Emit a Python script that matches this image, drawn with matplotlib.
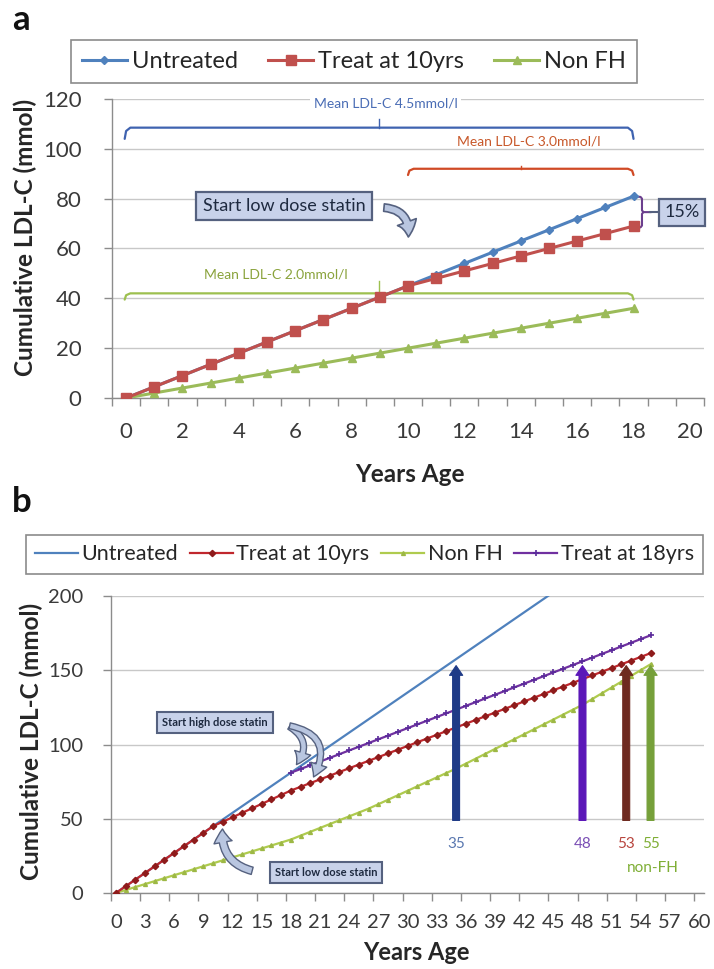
import matplotlib
matplotlib.use("Agg")
import matplotlib.pyplot as plt
from matplotlib.patches import FancyArrowPatch

plt.rcParams['font.family'] = ['Lato', 'DejaVu Sans']

# ---------------- data: panel a ----------------
ages_a = list(range(0, 19))
untreated_a = [0, 4.5, 9, 13.5, 18, 22.5, 27, 31.5, 36, 40.5, 45, 49.5, 54, 58.5, 63, 67.5, 72, 76.5, 81]
treat10_a = [0, 4.5, 9, 13.5, 18, 22.5, 27, 31.5, 36, 40.5, 45, 48, 51, 54, 57, 60, 63, 66, 69]
nonfh_a = [0, 2, 4, 6, 8, 10, 12, 14, 16, 18, 20, 22, 24, 26, 28, 30, 32, 34, 36]
xticks_a = [0, 2, 4, 6, 8, 10, 12, 14, 16, 18, 20]
yticks_a = [0, 20, 40, 60, 80, 100, 120]

# ---------------- data: panel b ----------------
ages_untreated_b = list(range(0, 46))
untreated_b = [0, 4.5, 9, 13.5, 18, 22.5, 27, 31.5, 36, 40.5, 45, 49.5, 54, 58.5, 63, 67.5,
               72, 76.5, 81, 85.5, 90, 94.5, 99, 103.5, 108, 112.5, 117, 121.5, 126, 130.5,
               135, 139.5, 144, 148.5, 153, 157.5, 162, 166.5, 171, 175.5, 180, 184.5, 189,
               193.5, 198, 202.5]
ages_b = list(range(0, 56))
treat10_b = [0, 4.5, 9, 13.5, 18, 22.5, 27, 31.5, 36, 40.5, 45, 48, 51, 54, 57, 60, 63, 66, 69,
             71.5, 74, 76.5, 79, 81.5, 84, 86.5, 89, 91.5, 94, 96.5, 99, 101.5, 104, 106.5,
             109, 111.5, 114, 116.5, 119, 121.5, 124, 126.5, 129, 131.5, 134, 136.5, 139,
             141.5, 144, 146.5, 149, 151.5, 154, 156.5, 159, 161.5]
nonfh_b = [0, 2, 4, 6, 8, 10, 12, 14, 16, 18, 20, 22, 24, 26, 28, 30, 32, 34, 36,
           38.6, 41.2, 43.8, 46.4, 49.0, 51.6, 54.2, 56.8,
           59.8, 62.8, 65.8, 68.8, 71.8, 74.8, 77.8, 80.8, 83.8,
           87.1, 90.4, 93.7, 97.0, 100.3, 103.6, 106.9, 110.2, 113.5, 116.8, 120.1, 123.4, 126.7,
           130.6, 134.5, 138.4, 142.3, 146.2, 150.1, 154.0]
ages_treat18_b = list(range(18, 56))
treat18_b = [81, 83.5, 86, 88.5, 91, 93.5, 96, 98.5, 101, 103.5, 106, 108.5, 111, 113.5, 116,
             118.5, 121, 123.5, 126, 128.5, 131, 133.5, 136, 138.5, 141, 143.5, 146, 148.5,
             151, 153.5, 156, 158.5, 161, 163.5, 166, 168.5, 171, 173.5]
xticks_b = list(range(0, 61, 3))
yticks_b = [0, 50, 100, 150, 200]

# threshold arrows (age reaching cumulative burden)
arrow_ages = [35, 48, 52.5, 55]
arrow_labels = ["35", "48", "53", "55"]
arrow_top = 155
arrow_bottom = 47
arrow_colors = ["#1F3B87", "#5B17B8", "#6E2A20", "#76A03A"]
arrow_label_colors = ["#5A78B0", "#7A4FB5", "#B8453E", "#7FAE35"]

C_BLUE = "#4F81BD"
C_RED = "#C0504D"
C_GREEN = "#9BBB59"
C_PURPLE = "#7030A0"
GRID = "#C8C8C8"
AXC = "#8C8C8C"
TXT = "#3A3A3A"
LAB = "#262626"

fig = plt.figure(figsize=(7.14, 9.69), dpi=100)
W, H = 714.0, 969.0


def fx(px):
    return px / W


def fy(py):
    return 1 - py / H


def axes_px(left, right, top, bottom):
    return fig.add_axes([left / W, 1 - bottom / H, (right - left) / W, (bottom - top) / H])


def style_axes(ax, yticks, xticks, minor, xlabsize, ylabsize, xpad, ypad):
    for s in ['top', 'right']:
        ax.spines[s].set_visible(False)
    for s in ['left', 'bottom']:
        ax.spines[s].set_color(AXC)
        ax.spines[s].set_linewidth(1.0)
    ax.set_yticks(yticks)
    ax.yaxis.grid(True, color=GRID, lw=1.0)
    ax.set_axisbelow(True)
    ax.set_xticks(xticks)
    ax.set_xticks(minor, minor=True)
    ax.tick_params(axis='x', which='major', length=0, labelsize=xlabsize, labelcolor=TXT, pad=xpad)
    ax.tick_params(axis='x', which='minor', length=6, color=AXC, width=1, direction='out')
    ax.tick_params(axis='y', length=6, color=AXC, width=1, labelsize=ylabsize, labelcolor=TXT, pad=ypad)


def brace_h(ax, x0, x1, y, drop, tick, color, lw=1.6):
    ax.plot([x0, x0 + 0.05, x0 + 0.2, x1 - 0.2, x1 - 0.05, x1],
            [y - drop, y - drop * 0.3, y, y, y - drop * 0.3, y - drop],
            color=color, lw=lw, solid_capstyle='round', clip_on=False)
    xm = (x0 + x1) / 2.0
    ax.plot([xm, xm], [y, y + tick], color=color, lw=1.0, clip_on=False)


# ======================= Panel a =======================
axa = axes_px(112, 704, 99, 398)
axa.set_xlim(-0.5, 20.5)
axa.set_ylim(0, 120)
style_axes(axa, yticks_a, xticks_a, [i - 0.5 for i in range(0, 22)], 16, 16, 17, 16)

la1, = axa.plot(ages_a, untreated_a, color=C_BLUE, lw=2.2, marker='D', ms=4.5, mfc=C_BLUE, mec=C_BLUE, zorder=3)
la2, = axa.plot(ages_a, treat10_a, color=C_RED, lw=2.2, marker='s', ms=7, mfc=C_RED, mec=C_RED, zorder=4)
la3, = axa.plot(ages_a, nonfh_a, color=C_GREEN, lw=2.2, marker='^', ms=6, mfc=C_GREEN, mec=C_GREEN, zorder=3)

fig.text(fx(25), fy(237), "Cumulative LDL-C (mmol)", fontsize=17.5, fontweight='bold', color=LAB,
         rotation=90, ha='center', va='center')
fig.text(fx(410), fy(474), "Years Age", fontsize=17.5, fontweight='bold', color=LAB,
         ha='center', va='center')

# mean LDL-C braces
brace_h(axa, -0.05, 18.0, 108.5, 4.5, 3.5, "#3F63B0")
axa.text(9.2, 118.3, "Mean LDL-C 4.5mmol/l", color="#4A6DB5", fontsize=10, ha='center', va='center',
         bbox=dict(boxstyle='square,pad=0.25', fc='white', ec='none'), zorder=5)
brace_h(axa, 10.0, 18.0, 92.0, 2.5, 1.2, "#D04A25")
axa.text(14.3, 103.0, "Mean LDL-C 3.0mmol/l", color="#C8582A", fontsize=10, ha='center', va='center', zorder=5)
brace_h(axa, -0.05, 18.0, 42.0, 2.5, 5.0, "#9DC04F")
axa.text(5.3, 49.6, "Mean LDL-C 2.0mmol/l", color="#8AA33C", fontsize=10, ha='center', va='center', zorder=5)

# start low dose statin box + curved arrow
box_kw = dict(boxstyle='square,pad=0.35', fc='#C8D2EA', ec='#55617F', lw=1.6)
axa.text(5.6, 77.0, "Start low dose statin", fontsize=13, color='#1E2A40', ha='center', va='center',
         bbox=box_kw, zorder=6)
arr = FancyArrowPatch((9.05, 76.5), (10.0, 63.5), connectionstyle='arc3,rad=-0.55',
                      arrowstyle='simple,head_width=1.2,head_length=0.9,tail_width=0.45',
                      mutation_scale=12, fc='#B9C6E0', ec='#55617F', lw=1.2, zorder=6)
axa.add_patch(arr)

# 15% brace
xb = 18.3
axa.plot([18.05, xb - 0.05, xb, xb, xb + 0.05, xb + 0.3], [80.9, 80.7, 80.0, 75.3, 74.6, 74.6],
         color='#6B3F8E', lw=1.5, clip_on=False)
axa.plot([18.05, xb - 0.05, xb, xb, xb + 0.05], [68.3, 68.5, 69.2, 73.9, 74.6],
         color='#6B3F8E', lw=1.5, clip_on=False)
axa.plot([xb + 0.3, 19.15], [74.6, 74.6], color='#55617F', lw=1.5, clip_on=False)
axa.text(19.72, 74.6, "15%", fontsize=13, color='#1E2A40', ha='center', va='center',
         bbox=dict(boxstyle='square,pad=0.3', fc='#C8D2EA', ec='#55617F', lw=1.6), zorder=6, clip_on=False)

leg_a = fig.legend([la1, la2, la3], ["Untreated", "Treat at 10yrs", "Non FH"], loc='center',
                   bbox_to_anchor=(fx(354), fy(61.5)), ncol=3, fontsize=17, frameon=True,
                   fancybox=False, edgecolor='#6E6E6E', handlelength=1.9, handletextpad=0.2,
                   columnspacing=1.3, borderpad=0.45, labelcolor=LAB)
leg_a.get_frame().set_linewidth(1.2)

fig.text(fx(12), fy(4), "a", fontsize=25, fontweight='bold', va='top', ha='left', color='#111111')

# ======================= Panel b =======================
axb = axes_px(111, 704, 596, 893)
axb.set_xlim(-0.5, 60.5)
axb.set_ylim(0, 200)
style_axes(axb, yticks_b, xticks_b, [i - 0.5 for i in range(0, 62, 3)], 14.5, 14.5, 15, 14)

lb1, = axb.plot(ages_untreated_b, untreated_b, color=C_BLUE, lw=1.6, zorder=3)
lb2, = axb.plot(ages_b, treat10_b, color="#C0272D", lw=1.6, marker='D', ms=3.2, mfc="#8E1B1B",
                mec="#8E1B1B", zorder=4)
lb3, = axb.plot(ages_b, nonfh_b, color="#AFCB4E", lw=1.6, marker='^', ms=2.8, mfc="#9DB845",
                mec="#9DB845", zorder=3)
lb4, = axb.plot(ages_treat18_b, treat18_b, color=C_PURPLE, lw=1.6, marker='+', ms=4, mew=1.2,
                mfc=C_PURPLE, mec="#5A2A9A", zorder=4)

fig.text(fx(31), fy(741), "Cumulative LDL-C (mmol)", fontsize=17.5, fontweight='bold', color=LAB,
         rotation=90, ha='center', va='center')
fig.text(fx(416), fy(953), "Years Age", fontsize=17, fontweight='bold', color=LAB,
         ha='center', va='center')

for xa, lab, col, lcol in zip(arrow_ages, arrow_labels, arrow_colors, arrow_label_colors):
    fa = FancyArrowPatch((xa, arrow_bottom), (xa, arrow_top),
                         arrowstyle='simple,head_width=0.95,head_length=0.7,tail_width=0.5',
                         mutation_scale=10, fc=col, ec=col, lw=0.8, zorder=6)
    axb.add_patch(fa)
    axb.text(xa, 33, lab, color=lcol, fontsize=11, ha='center', va='center', zorder=6)
axb.text(arrow_ages[-1] + 0.2, 17, "non-FH", color=arrow_label_colors[-1], fontsize=11,
         ha='center', va='center')

box_small = dict(boxstyle='square,pad=0.45', fc='#C8D2EA', ec='#55617F', lw=1.5)
axb.text(10.2, 114.5, "Start high dose statin", fontsize=8, fontweight='bold', color='#1E2A40',
         ha='center', va='center', bbox=box_small, zorder=6)
for tip, rad in [((18.4, 85.0), -0.6), ((20.2, 76.5), -0.7)]:
    fb = FancyArrowPatch((17.6, 113.0), tip, connectionstyle='arc3,rad=%f' % rad,
                         arrowstyle='simple,head_width=1.0,head_length=0.8,tail_width=0.35',
                         mutation_scale=12, fc='#B9C6E0', ec='#55617F', lw=1.0, zorder=6)
    axb.add_patch(fb)

axb.text(21.6, 13.5, "Start low dose statin", fontsize=8, fontweight='bold', color='#1E2A40',
         ha='center', va='center', bbox=box_small, zorder=6)
fc2 = FancyArrowPatch((14.3, 14.5), (11.0, 45.0), connectionstyle='arc3,rad=-0.45',
                      arrowstyle='simple,head_width=1.1,head_length=0.8,tail_width=0.45',
                      mutation_scale=12, fc='#B9C6E0', ec='#55617F', lw=1.0, zorder=6)
axb.add_patch(fc2)

leg_b = fig.legend([lb1, lb2, lb3, lb4], ["Untreated", "Treat at 10yrs", "Non FH", "Treat at 18yrs"],
                   loc='center', bbox_to_anchor=(fx(364.5), fy(554.5)), ncol=4, fontsize=15.5,
                   frameon=True, fancybox=False, edgecolor='#6E6E6E', handlelength=2.0,
                   handletextpad=0.15, columnspacing=0.55, borderpad=0.45, labelcolor=LAB)
leg_b.get_frame().set_linewidth(1.2)

fig.text(fx(12), fy(486), "b", fontsize=25, fontweight='bold', va='top', ha='left', color='#111111')

fig.savefig("out.png", dpi=100, facecolor='white')
